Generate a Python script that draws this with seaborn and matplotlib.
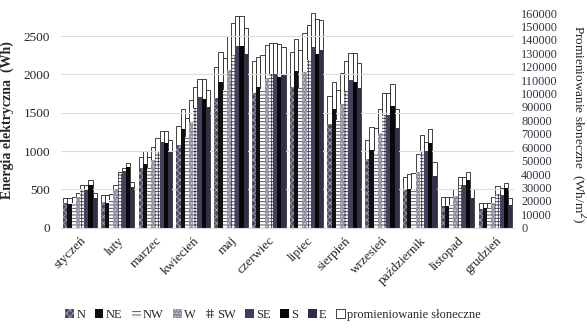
import pandas as pd
import matplotlib
matplotlib.use('Agg')
import matplotlib.pyplot as plt
from matplotlib.patches import Patch
import seaborn as sns

sns.set_style('white')
plt.rcParams['font.family'] = ['Liberation Serif', 'DejaVu Serif']

# miesiace i kierunki
months = ['styczeń', 'luty', 'marzec', 'kwiecień', 'maj', 'czerwiec',
          'lipiec', 'sierpień', 'wrzesień', 'październik', 'listopad', 'grudzień']
directions = ['N', 'NE', 'NW', 'W', 'SW', 'SE', 'S', 'E']

# energia elektryczna [Wh], wiersz = miesiac, kolumny = N, NE, NW, W, SW, SE, S, E
energy = [
    [316, 307, 316, 402, 490, 490, 555, 381],
    [330, 320, 360, 500, 700, 740, 790, 530],
    [773, 829, 777, 881, 990, 1120, 1107, 990],
    [1077, 1282, 1185, 1381, 1556, 1708, 1678, 1577],
    [1695, 1903, 1795, 2056, 2252, 2369, 2369, 2265],
    [1752, 1830, 1804, 1948, 2004, 2004, 1969, 1991],
    [1830, 2043, 1821, 2034, 2187, 2360, 2265, 2317],
    [1351, 1543, 1403, 1612, 1786, 1926, 1903, 1817],
    [890, 1012, 990, 1230, 1469, 1469, 1586, 1295],
    [490, 503, 490, 728, 990, 1003, 1099, 672],
    [281, 281, 294, 411, 555, 555, 620, 381],
    [238, 251, 251, 324, 437, 424, 512, 294],
]

# promieniowanie sloneczne [Wh/m2]
radiation = [
    [21800, 21800, 22500, 25500, 31700, 31700, 35400, 25500],
    [24200, 24200, 25000, 31700, 41600, 44200, 48100, 34200],
    [52800, 57100, 52800, 60300, 66500, 72200, 72200, 65300],
    [75700, 88200, 81700, 95100, 104600, 110800, 110800, 102600],
    [120000, 131100, 126200, 142800, 152800, 157800, 157800, 148600],
    [124200, 127000, 128700, 136100, 137800, 137800, 136900, 134400],
    [131100, 140400, 132400, 144900, 151000, 159800, 155300, 154800],
    [98100, 108800, 102600, 115000, 124400, 130400, 130400, 122900],
    [65300, 74700, 74000, 88200, 100100, 100600, 106800, 88200],
    [37900, 39900, 40900, 54800, 69000, 64000, 73200, 49100],
    [22500, 22500, 22500, 28500, 37400, 37400, 41600, 28500],
    [18100, 18100, 18100, 23000, 31000, 29200, 33000, 21800],
]

rows = []
for i, m in enumerate(months):
    for j, d in enumerate(directions):
        rows.append({'miesiac': m, 'kierunek': d,
                     'energia': energy[i][j], 'promieniowanie': radiation[i][j]})
df = pd.DataFrame(rows)

# wyglad slupkow dla kazdego kierunku: (kolor, kreskowanie, kolor kreskowania)
styles = {
    'N':  ('#4a4a62', 'xxxxx', '#a0a0b4'),
    'NE': ('#101010', '', '#101010'),
    'NW': ('#ffffff', '-----', '#3a3a4a'),
    'W':  ('#8c8ca2', '.....', '#d8d8e4'),
    'SW': ('#ffffff', '+++++', '#3a3a4a'),
    'SE': ('#3e3e60', '', '#3e3e60'),
    'S':  ('#080808', '', '#080808'),
    'E':  ('#2c2c4a', '', '#2c2c4a'),
}
plt.rcParams['hatch.linewidth'] = 0.6

fig = plt.figure(figsize=(5.87, 3.28), dpi=100)
ax = fig.add_axes([0.104, 0.306, 0.772, 0.654])
ax2 = ax.twinx()

# promieniowanie - biale slupki z tylu (prawa os)
sns.barplot(data=df, x='miesiac', y='promieniowanie', hue='kierunek',
            hue_order=directions, palette=['white'] * 8, width=0.89,
            errorbar=None, legend=False, ax=ax2,
            edgecolor='#222222', linewidth=0.6)

# energia elektryczna (lewa os)
sns.barplot(data=df, x='miesiac', y='energia', hue='kierunek',
            hue_order=directions, palette=[styles[d][0] for d in directions],
            width=0.89, errorbar=None, legend=False, ax=ax, linewidth=0)
for d, cont in zip(directions, ax.containers):
    fc, hatch, hc = styles[d]
    for bar in cont:
        bar.set_hatch(hatch)
        bar.set_edgecolor(hc)
        bar.set_linewidth(0)

ax.set_zorder(ax2.get_zorder() + 1)
ax.patch.set_visible(False)

ax.set_ylim(0, 2800)
ax2.set_ylim(0, 160000)
ax.set_yticks([0, 500, 1000, 1500, 2000, 2500])
ax2.set_yticks(range(0, 160001, 10000))
ax.yaxis.grid(True, color='#dcdcdc', linewidth=0.8)
ax.set_axisbelow(True)

for a in (ax, ax2):
    for s in a.spines.values():
        s.set_visible(False)
    a.tick_params(length=0, labelsize=9.5)
ax.spines['bottom'].set_visible(True)
ax.spines['bottom'].set_color('#dcdcdc')
ax2.tick_params(axis='y', pad=5, colors='#333344', labelsize=8.8)
ax.tick_params(axis='y', pad=8)

ax.set_xlabel('')
ax2.set_xlabel('')
ax2.set_ylabel('')
ax.set_xticks(range(len(months)))
ax.set_xticklabels(months, rotation=45, ha='right', rotation_mode='anchor', fontsize=9.5)
ax.tick_params(axis='x', pad=5)

ax.set_ylabel('Energia elektryczna  (Wh)', fontsize=10, fontweight='bold', labelpad=7)
fig.text(0.984, 0.62, 'Promieniowanie słoneczne  (Wh/m$^2$)', fontsize=9.5,
         rotation=270, ha='center', va='center')

handles = []
for d, cont in zip(directions, ax.containers):
    fc, hatch, hc = styles[d]
    handles.append(Patch(facecolor=fc, hatch=hatch, edgecolor=hc, linewidth=0, label=d))
handles.append(Patch(facecolor='white', edgecolor='#222222', linewidth=0.6,
                     label='promieniowanie słoneczne'))
fig.legend(handles=handles, loc='center', bbox_to_anchor=(0.465, 0.04), ncol=9,
           frameon=False, fontsize=9, handlelength=0.7, handleheight=0.7,
           handletextpad=0.2, columnspacing=0.75)

fig.savefig('out.png', dpi=100)
